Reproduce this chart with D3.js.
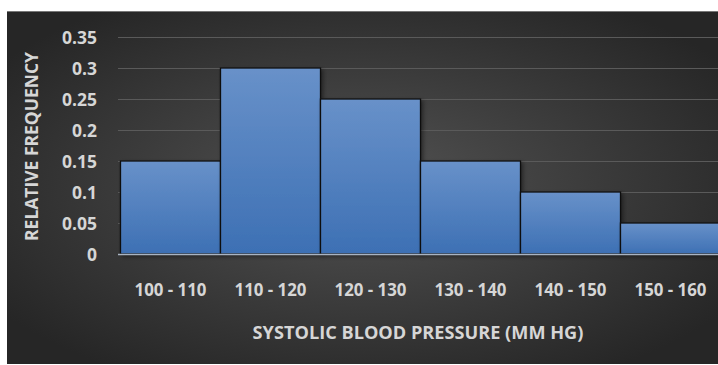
<!DOCTYPE html>
<html><head><meta charset="utf-8">
<script src="https://cdn.jsdelivr.net/npm/d3@7"></script>
<style>
html,body{margin:0;padding:0;background:#fff;}
svg{display:block;}
</style></head>
<body>
<svg id="c" width="718" height="365"></svg>
<script>
const categories = ["100 - 110","110 - 120","120 - 130","130 - 140","140 - 150","150 - 160"];
const values = [0.15, 0.30, 0.25, 0.15, 0.10, 0.05];
const yTicks = [0, 0.05, 0.1, 0.15, 0.2, 0.25, 0.3, 0.35];
const yTickLabels = ["0","0.05","0.1","0.15","0.2","0.25","0.3","0.35"];
const xTitle = "SYSTOLIC BLOOD PRESSURE (MM HG)";
const yTitle = "RELATIVE FREQUENCY";

const svg = d3.select("#c");
const W = 718, H = 365;
const defs = svg.append("defs");
const bg = defs.append("radialGradient").attr("id","bg")
  .attr("cx","0.5").attr("cy","0.5").attr("r","0.62");
bg.append("stop").attr("offset","0").attr("stop-color","#535353");
bg.append("stop").attr("offset","1").attr("stop-color","#262626");
const bar = defs.append("linearGradient").attr("id","bar").attr("x1",0).attr("y1",0).attr("x2",0).attr("y2",1);
bar.append("stop").attr("offset","0").attr("stop-color","#6891c9");
bar.append("stop").attr("offset","1").attr("stop-color","#3d70b4");
const sh = defs.append("filter").attr("id","sh").attr("x","-10%").attr("y","-10%").attr("width","130%").attr("height","130%");
sh.append("feDropShadow").attr("dx",2).attr("dy",2).attr("stdDeviation",2).attr("flood-color","#000").attr("flood-opacity",0.45);

svg.append("rect").attr("x",7).attr("y",11).attr("width",W-7).attr("height",353).attr("fill","url(#bg)");
svg.append("line").attr("x1",7).attr("x2",W).attr("y1",11.5).attr("y2",11.5).attr("stroke","#777").attr("stroke-width",1);

const x = d3.scaleBand().domain(categories).range([120.5, 720.5]).padding(0);
const y = d3.scaleLinear().domain([0, 0.35]).range([254, 37]);

const font = "'Open Sans', Lato, sans-serif";
const txtCol = "#d6d6d6";

// fit font size so that a text spans the target width
function fit(sel, targetW) {
  sel.each(function() {
    const t = d3.select(this);
    const fs = parseFloat(t.attr("font-size"));
    const w = this.getComputedTextLength();
    if (w > 0) t.attr("font-size", (fs * targetW / w).toFixed(2) + "px");
  });
}

// gridlines
svg.append("g").selectAll("line").data(yTicks.slice(1)).join("line")
  .attr("x1",118).attr("x2",W)
  .attr("y1",d=>Math.round(y(d))+0.5).attr("y2",d=>Math.round(y(d))+0.5)
  .attr("stroke","#5a5a5a").attr("stroke-width",1);

// y axis labels
const yAxis = d3.axisLeft(y).tickValues(yTicks).tickFormat((d,i)=>yTickLabels[i]).tickSize(0).tickPadding(0);
const yg = svg.append("g").attr("transform","translate(97,0)").call(yAxis);
yg.select(".domain").remove();
const yt = yg.selectAll("text").attr("fill",txtCol).attr("font-family",font).attr("font-weight","bold").attr("font-size","14px").attr("dy","0.35em");
// size set from widest label "0.35" ~35px
let ref = yt.filter((d,i)=>i===7).node();
let fsY = 14 * 35 / ref.getComputedTextLength();
yt.attr("font-size", fsY + "px");

// bars
svg.append("g").selectAll("rect").data(values).join("rect")
  .attr("x",(d,i)=>x(categories[i]))
  .attr("y",d=>y(d))
  .attr("width",x.bandwidth())
  .attr("height",d=>y(0)-y(d))
  .attr("fill","url(#bar)")
  .attr("stroke","#111").attr("stroke-width",1.3)
  .attr("filter","url(#sh)");

// baseline
svg.append("line").attr("x1",118).attr("x2",W).attr("y1",254.5).attr("y2",254.5).attr("stroke","#a9b4c2").attr("stroke-width",1.5);

// x axis labels
const xAxis = d3.axisBottom(x).tickSize(0).tickPadding(0);
const xg = svg.append("g").attr("transform","translate(0,290)").call(xAxis);
xg.select(".domain").remove();
const xt = xg.selectAll("text").attr("fill",txtCol).attr("font-family",font).attr("font-weight","bold").attr("font-size","14px").attr("dy","0.35em");
ref = xt.filter((d,i)=>i===0).node();
const fsX = 14 * 72 / ref.getComputedTextLength();
xt.attr("font-size", fsX + "px");

// titles
const xT = svg.append("text").attr("x",418).attr("y",332).attr("text-anchor","middle").attr("dominant-baseline","central")
  .attr("fill",txtCol).attr("font-family",font).attr("font-weight","bold").attr("font-size","14px").text(xTitle);
fit(xT, 331);
const yT = svg.append("text").attr("transform","translate(31,146.5) rotate(-90)").attr("text-anchor","middle").attr("dominant-baseline","central")
  .attr("fill",txtCol).attr("font-family",font).attr("font-weight","bold").attr("font-size","14px").text(yTitle);
fit(yT, 189);
</script>
</body></html>
